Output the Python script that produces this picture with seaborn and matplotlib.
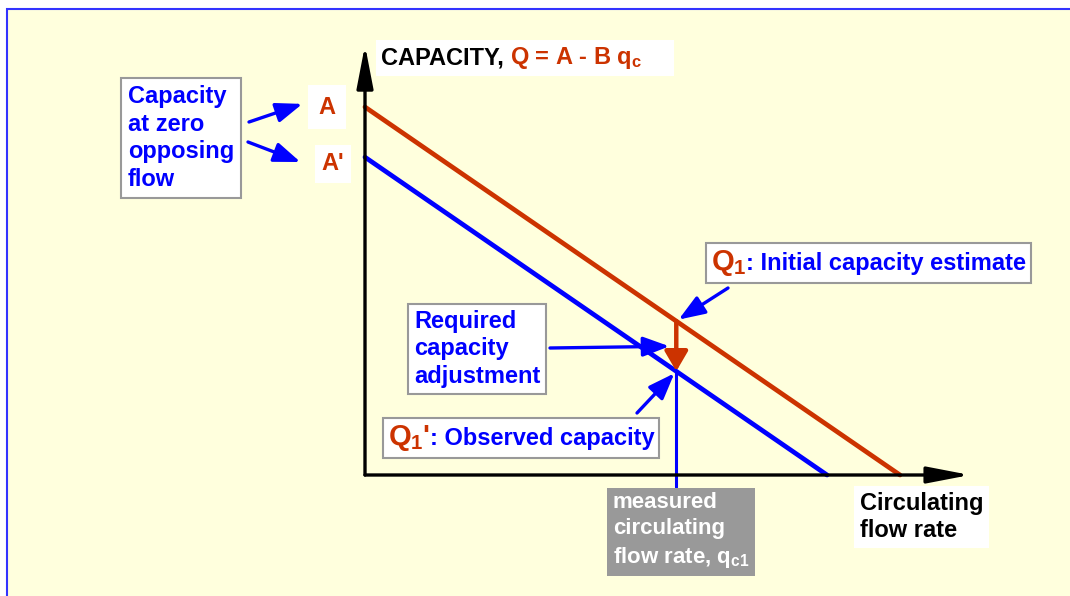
import numpy as np
import pandas as pd
import matplotlib
matplotlib.use("Agg")
import matplotlib.pyplot as plt
import seaborn as sns
from matplotlib.offsetbox import TextArea, HPacker, AnnotationBbox
from matplotlib.patches import Rectangle

# capacity lines (arbitrary units)
qc_initial = [0, 1375]
cap_initial = [1100, 0]
qc_observed = [0, 1187.5]
cap_observed = [950, 0]
qc1 = 800
qc_axis_end = 1555
cap_axis_end = 1285

ORANGE = "#CC3300"
BLUE = "#0000FF"
GRAY = "#999999"
YELLOW = "#FFFFDD"
W, H = 1070, 596

sns.set_theme(style="white")
plt.rcParams["font.family"] = ["Liberation Sans", "DejaVu Sans"]
plt.rcParams["font.weight"] = "bold"
plt.rcParams["mathtext.fontset"] = "custom"
plt.rcParams["mathtext.rm"] = "Liberation Sans:bold"
plt.rcParams["mathtext.it"] = "Liberation Sans:bold"
plt.rcParams["mathtext.bf"] = "Liberation Sans:bold"

fig = plt.figure(figsize=(W / 100, H / 100), dpi=100, facecolor="white")
fig.add_artist(Rectangle((7 / W, -0.1), 1.2, 1 - 9 / H + 0.1, transform=fig.transFigure,
                         fc=YELLOW, ec="#3333FF", lw=1.5, zorder=0))

# axes spans the whole figure, origin of the sketch at pixel (365, 475)
sx = 535 / qc_initial[1]
sy = 368 / cap_initial[0]
ax = fig.add_axes([0, 0, 1, 1])
ax.set_xlim(-365 / sx, (W - 365) / sx)
ax.set_ylim(-(H - 475) / sy, 475 / sy)
ax.axis("off")
ax.patch.set_alpha(0)


def px(x, y):
    return (x, H - y)


df = pd.DataFrame({
    "qc": qc_initial + qc_observed,
    "cap": cap_initial + cap_observed,
    "curve": ["initial"] * 2 + ["observed"] * 2,
})
sns.lineplot(data=df, x="qc", y="cap", hue="curve", palette={"initial": ORANGE, "observed": BLUE},
             lw=3.4, legend=False, ax=ax, zorder=3)

# axes arrows
ax_arrow = dict(arrowstyle="-|>,head_length=1.3,head_width=0.25", lw=2.4, color="black",
                mutation_scale=20, shrinkA=0, shrinkB=0)
ax.annotate("", xy=(qc_axis_end, 0), xytext=(0, 0), arrowprops=ax_arrow, zorder=4)
ax.annotate("", xy=(0, cap_axis_end), xytext=(0, 0), arrowprops=ax_arrow, zorder=4)

q1 = np.interp(qc1, qc_initial, cap_initial)
q1_obs = np.interp(qc1, qc_observed, cap_observed)

# vertical measured line and adjustment arrow
ax.plot([qc1, qc1], [q1_obs, -(487 - 475) / sy], color=BLUE, lw=2.2, zorder=2)
ax.annotate("", xy=(qc1, q1_obs), xytext=(qc1, q1),
            arrowprops=dict(arrowstyle="-|>,head_length=0.6,head_width=0.35", lw=3.2, color=ORANGE,
                            mutation_scale=20, shrinkA=0, shrinkB=0), zorder=5)

F = 17
blue_arrow = dict(arrowstyle="-|>,head_length=0.8,head_width=0.3", lw=2.4, color=BLUE,
                  mutation_scale=20, shrinkA=0, shrinkB=2)

# left box
ax.annotate("Capacity\nat zero\nopposing\nflow", xy=px(128, 138), xycoords="figure pixels",
            ha="left", va="center", color=BLUE, fontsize=F, linespacing=1.25,
            bbox=dict(boxstyle="square,pad=0.3", fc="white", ec=GRAY, lw=1.5))
ax.annotate("", xy=px(305, 103), xycoords="figure pixels", xytext=px(249, 122),
            textcoords="figure pixels", arrowprops=blue_arrow)
ax.annotate("", xy=px(303, 163), xycoords="figure pixels", xytext=px(248, 142),
            textcoords="figure pixels", arrowprops=blue_arrow)
ax.annotate("A", xy=px(327, 107), xycoords="figure pixels", ha="center", va="center",
            color=ORANGE, fontsize=F, bbox=dict(boxstyle="square,pad=0.45", fc="white", ec="none"))
ax.annotate("A'", xy=px(333, 164), xycoords="figure pixels", ha="center", va="center",
            color=ORANGE, fontsize=F, bbox=dict(boxstyle="square,pad=0.3", fc="white", ec="none"))


def multi(parts, xy, frame_ec="none", pad=0.3):
    areas = [TextArea(s, textprops=dict(color=c, fontsize=fs, fontweight="bold")) for s, c, fs in parts]
    box = HPacker(children=areas, align="baseline", pad=0, sep=0)
    ab = AnnotationBbox(box, xy, xycoords="figure pixels", box_alignment=(0, 0.5), frameon=True,
                        pad=pad, bboxprops=dict(boxstyle="square", fc="white", ec=frame_ec, lw=1.5))
    ax.add_artist(ab)


multi([("CAPACITY, ", "black", F), ("Q = A - B $q_c$", ORANGE, F), ("    ", ORANGE, F)],
      px(381, 58), pad=0.5)
multi([("$Q_1$", ORANGE, 21), (": Initial capacity estimate", BLUE, F)], px(711, 263),
      frame_ec=GRAY, pad=0.9)
multi([("$Q_1$'", ORANGE, 21), (": Observed capacity", BLUE, F)], px(388, 438),
      frame_ec=GRAY, pad=0.9)

ax.annotate("", xy=(qc1, q1), xytext=px(728, 288), textcoords="figure pixels", arrowprops=blue_arrow)
ax.annotate("", xy=(qc1, q1_obs), xytext=px(637, 413), textcoords="figure pixels", arrowprops=blue_arrow)

ax.annotate("Required\ncapacity\nadjustment", xy=px(414, 349), xycoords="figure pixels",
            ha="left", va="center", color=BLUE, fontsize=F, linespacing=1.25,
            bbox=dict(boxstyle="square,pad=0.25", fc="white", ec=GRAY, lw=1.5))
ax.annotate("", xy=(qc1, (q1 + q1_obs) / 2), xytext=px(550, 348), textcoords="figure pixels",
            arrowprops=dict(blue_arrow, shrinkB=5))

ax.annotate("measured\ncirculating\nflow rate, $q_{c1}$", xy=px(613, 531), xycoords="figure pixels",
            ha="left", va="center", color="white", fontsize=16, linespacing=1.35,
            bbox=dict(boxstyle="square,pad=0.25", fc=GRAY, ec="none"))
ax.annotate("Circulating\nflow rate", xy=px(860, 517), xycoords="figure pixels",
            ha="left", va="center", color="black", fontsize=F, linespacing=1.2,
            bbox=dict(boxstyle="square,pad=0.25", fc="white", ec="none"))

fig.savefig("out.png", dpi=100, facecolor="white")
